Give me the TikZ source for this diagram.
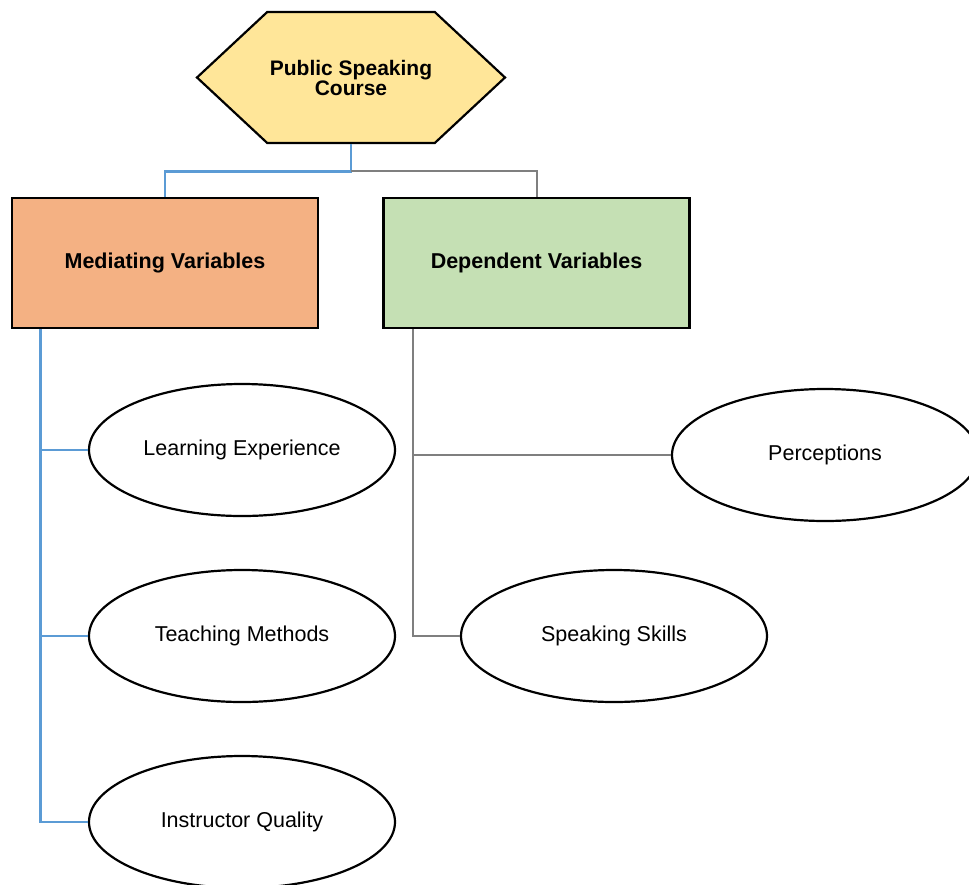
\documentclass[tikz,border=0pt]{standalone}
\usepackage{fontspec}
\setmainfont{Liberation Sans}
\usepackage{xcolor}
\usepackage{tikz}
\usetikzlibrary{shapes.geometric, shapes.symbols, calc}

\definecolor{hexfill}{HTML}{FFE699}
\definecolor{medfill}{HTML}{F4B183}
\definecolor{depfill}{HTML}{C5E0B4}
\definecolor{linkblue}{HTML}{5B9BD5}
\definecolor{linkgray}{HTML}{7F7F7F}

\tikzset{
    coursehex/.style={signal, signal to=east and west, signal pointer angle=86,
        draw=black, line width=2.2pt, fill=hexfill, minimum width=308pt, minimum height=131pt,
        inner sep=0pt, align=center, font=\bfseries\fontsize{21}{20}\selectfont},
    varbox/.style={draw=black, line width=2.4pt, minimum width=306pt, minimum height=130pt,
        inner sep=0pt, font=\bfseries\fontsize{21.5}{24}\selectfont},
    oval/.style={ellipse, draw=black, line width=2.2pt, fill=white, minimum width=306pt,
        minimum height=132pt, inner sep=0pt, font=\fontsize{21.5}{24}\selectfont},
    bluelink/.style={linkblue, line width=2.8pt},
    graylink/.style={linkgray, line width=2pt}
}

\begin{document}
\begin{tikzpicture}[x=1pt, y=-1pt]
                \useasboundingbox (0,0) rectangle (969,884);
                % Course and the two groups
                \node[coursehex] (course) at (351,77.5) {Public Speaking\\Course};
                \node[varbox, fill=medfill] (med) at (165,263) {Mediating Variables};
                \node[varbox, fill=depfill] (dep) at (536.5,263) {Dependent Variables};
                % Variables
                \node[oval] (learn) at (242,450) {Learning Experience};
                \node[oval] (teach) at (242,636) {Teaching Methods};
                \node[oval] (instr) at (242,822) {Instructor Quality};
                \node[oval] (percep) at (825,455) {Perceptions};
                \node[oval] (skills) at (614,636) {Speaking Skills};
                % Links from the course
                \coordinate (split) at ($(course.south)+(0,27)$);
                \draw[bluelink] (course.south) -- (split) -| (med.north);
                \draw[graylink] (split) -| (dep.north);
                % Mediating spine
                \coordinate (mspine) at ($(med.south west)+(30,0)$);
                \draw[bluelink] (mspine) |- (instr.west);
                \foreach \v in {learn, teach} {
                    \draw[bluelink] (mspine |- \v.west) -- (\v.west);
                }
                % Dependent spine
                \coordinate (dspine) at ($(dep.south west)+(31,0)$);
                \draw[graylink] (dspine) |- (skills.west);
                \draw[graylink] (dspine |- percep.west) -- (percep.west);
            \end{tikzpicture}
\end{document}
